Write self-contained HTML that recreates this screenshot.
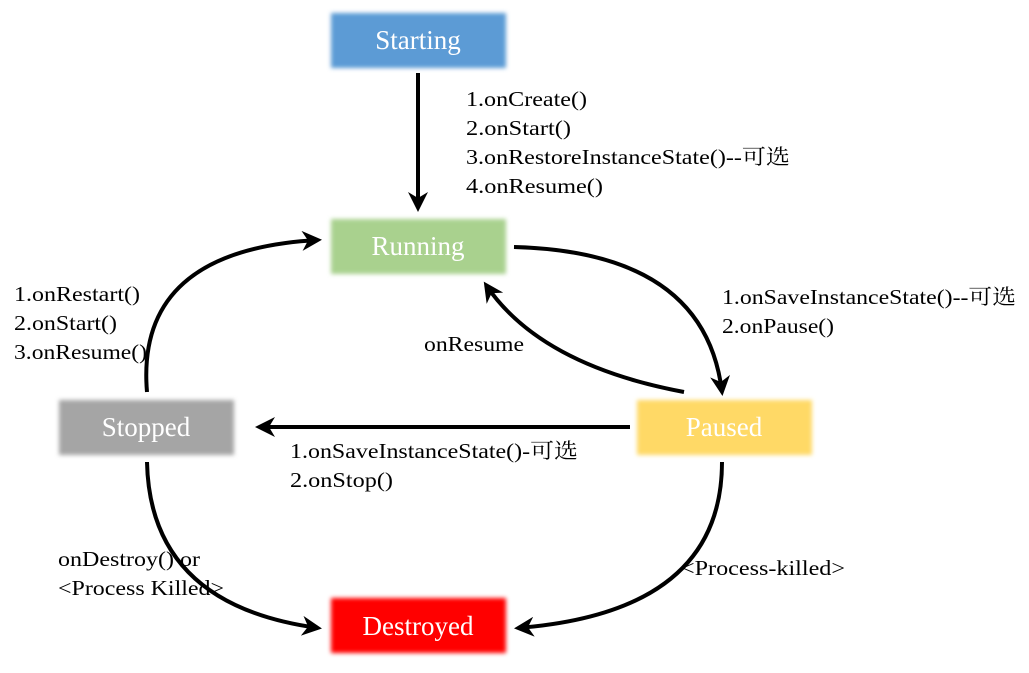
<!DOCTYPE html>
<html><head><meta charset="utf-8"><style>
html,body{margin:0;padding:0;background:#fff;}
svg{display:block;}
.lbl{font-family:"Liberation Serif","Noto Serif CJK SC","Noto Sans CJK SC",serif;font-size:21px;fill:#000;}
.bx{font-family:"Liberation Serif",serif;font-size:27px;fill:#fff;text-anchor:middle;}
</style></head><body>
<svg width="1029" height="673" viewBox="0 0 1029 673" xmlns="http://www.w3.org/2000/svg">
<defs>
<filter id="bl" x="-10%" y="-20%" width="120%" height="140%"><feGaussianBlur stdDeviation="2"/></filter>
<marker id="ah" viewBox="0 0 10 10" refX="8" refY="5" markerWidth="5" markerHeight="5" orient="auto" markerUnits="strokeWidth">
<path d="M0,0 L10,5 L0,10 L3,5 z" fill="#000"/></marker>
</defs>
<g filter="url(#bl)">
<rect x="331" y="13" width="175" height="55" fill="#5b9bd5"/>
<rect x="331" y="219" width="175" height="55" fill="#a9d18e"/>
<rect x="59" y="400" width="175" height="55" fill="#a5a5a5"/>
<rect x="637" y="400" width="175" height="55" fill="#ffd966"/>
<rect x="331" y="598" width="175" height="55" fill="#ff0000"/>
</g>
<text class="bx" x="418" y="49">Starting</text>
<text class="bx" x="418" y="255">Running</text>
<text class="bx" x="146" y="436">Stopped</text>
<text class="bx" x="724" y="436">Paused</text>
<text class="bx" x="418" y="635">Destroyed</text>
<g fill="none" stroke="#000" stroke-width="4" marker-end="url(#ah)">
<path d="M418,73 L418,208"/>
<path d="M514,247 Q705,252 722,392"/>
<path d="M684,392 Q540,365 486,285"/>
<path d="M630,427 L259,427"/>
<path d="M147,392 Q135,250 318,240"/>
<path d="M147,462 Q150,605 318,628"/>
<path d="M722,462 Q722,612 518,628"/>
</g>
<text class="lbl" x="466" y="106" textLength="121" lengthAdjust="spacingAndGlyphs">1.onCreate()</text>
<text class="lbl" x="466" y="135" textLength="105" lengthAdjust="spacingAndGlyphs">2.onStart()</text>
<text class="lbl" x="466" y="164" textLength="324" lengthAdjust="spacingAndGlyphs">3.onRestoreInstanceState()--可选</text>
<text class="lbl" x="466" y="193" textLength="137" lengthAdjust="spacingAndGlyphs">4.onResume()</text>
<text class="lbl" x="14" y="301" textLength="126" lengthAdjust="spacingAndGlyphs">1.onRestart()</text>
<text class="lbl" x="14" y="330" textLength="103" lengthAdjust="spacingAndGlyphs">2.onStart()</text>
<text class="lbl" x="14" y="359" textLength="133" lengthAdjust="spacingAndGlyphs">3.onResume()</text>
<text class="lbl" x="722" y="304" textLength="294" lengthAdjust="spacingAndGlyphs">1.onSaveInstanceState()--可选</text>
<text class="lbl" x="722" y="333" textLength="112" lengthAdjust="spacingAndGlyphs">2.onPause()</text>
<text class="lbl" x="424" y="351" textLength="100" lengthAdjust="spacingAndGlyphs">onResume</text>
<text class="lbl" x="290" y="458" textLength="288" lengthAdjust="spacingAndGlyphs">1.onSaveInstanceState()-可选</text>
<text class="lbl" x="290" y="487" textLength="103" lengthAdjust="spacingAndGlyphs">2.onStop()</text>
<text class="lbl" x="58" y="566" textLength="142" lengthAdjust="spacingAndGlyphs">onDestroy() or</text>
<text class="lbl" x="58" y="595" textLength="166" lengthAdjust="spacingAndGlyphs">&lt;Process Killed&gt;</text>
<text class="lbl" x="681" y="575" textLength="164" lengthAdjust="spacingAndGlyphs">&lt;Process-killed&gt;</text>
</svg>
</body></html>
